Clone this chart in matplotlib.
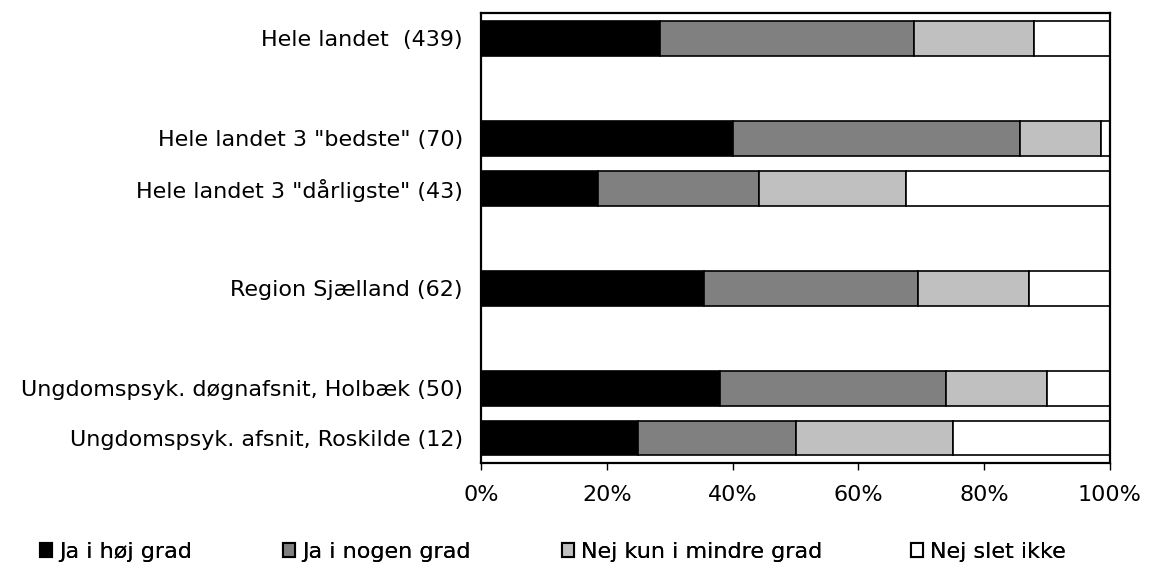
import matplotlib
matplotlib.use("Agg")
import matplotlib.pyplot as plt
import numpy as np
from matplotlib.patches import Patch

categories = ['Hele landet  (439)', 'Hele landet 3 "bedste" (70)', 'Hele landet 3 "dårligste" (43)',
              'Region Sjælland (62)', 'Ungdomspsyk. døgnafsnit, Holbæk (50)',
              'Ungdomspsyk. afsnit, Roskilde (12)']
series_names = ['Ja i høj grad', 'Ja i nogen grad', 'Nej kun i mindre grad', 'Nej slet ikke']
ja_hoej = [28.5, 40.0, 18.6, 35.5, 38.0, 25.0]
ja_nogen = [40.3, 45.7, 25.6, 33.9, 36.0, 25.0]
nej_mindre = [19.1, 12.9, 23.3, 17.7, 16.0, 25.0]
nej_slet = [12.1, 1.4, 32.5, 12.9, 10.0, 25.0]
xticklabels = ['0%', '20%', '40%', '60%', '80%', '100%']

# layout: slot index of each bar (gaps between groups)
slots = [0, 2, 3, 5, 7, 8]
colors = ['#000000', '#808080', '#c0c0c0', '#ffffff']

plt.rcParams['font.family'] = ['DejaVu Sans']
FS = 16
fig = plt.figure(figsize=(11.49, 5.68), dpi=100)
ax = fig.add_axes([481/1149, 1 - 463/568, (1110-481)/1149, (463-13)/568])

series = [ja_hoej, ja_nogen, nej_mindre, nej_slet]
left = np.zeros(len(categories))
handles = []
for name, vals, c in zip(series_names, series, colors):
    vals = np.array(vals)
    ax.barh(slots, vals, left=left, height=0.7, color=c, edgecolor='black', linewidth=1.2, label=name)
    left += vals
    handles.append(Patch(facecolor=c, edgecolor='black', linewidth=1.5, label=name))

ax.set_xlim(0, 100)
ax.set_ylim(8.5, -0.5)
ax.set_yticks(slots)
ax.set_yticklabels(categories, fontsize=FS)
ax.tick_params(axis='y', length=0, pad=13)
ax.set_xticks(np.linspace(0, 100, 6))
ax.set_xticklabels(xticklabels, fontsize=FS)
ax.tick_params(axis='x', length=5, width=1.0, direction='out', pad=11)
for s in ax.spines.values():
    s.set_linewidth(1.6)
    s.set_color('black')

leg_x = [40/1149, 283/1149, 562/1149, 911/1149]
for h, x in zip(handles, leg_x):
    lg = fig.legend(handles=[h], loc='center left', bbox_to_anchor=(x, 1 - 552/568),
                    frameon=False, fontsize=FS, handlelength=0.55, handleheight=0.55,
                    handletextpad=0.3, borderaxespad=0, borderpad=0)
    fig.add_artist(lg)

fig.savefig('out.png', dpi=100)
